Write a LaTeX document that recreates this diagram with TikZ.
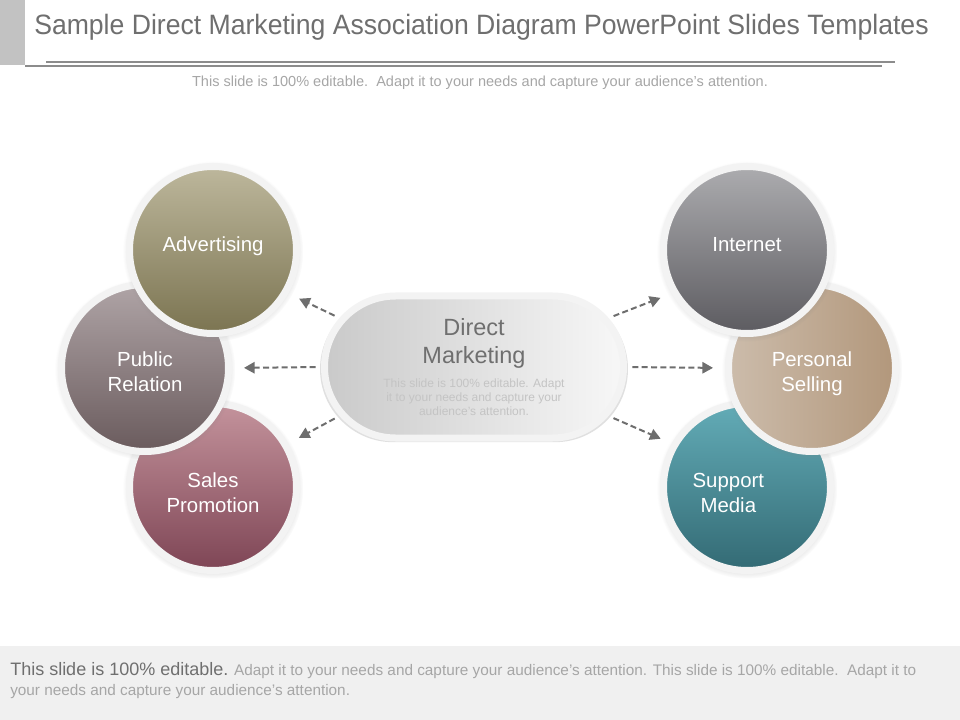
\documentclass[tikz,border=0pt]{standalone}
\usepackage{fontspec}
\setmainfont{Liberation Sans}
\usepackage{tikz}
\usetikzlibrary{shapes.misc, arrows.meta, shadows}

\definecolor{titlegray}{HTML}{6F6F6F}
\definecolor{subgray}{HTML}{A6A6A6}
\definecolor{faintgray}{HTML}{C4C4C4}
\definecolor{bargray}{HTML}{C2C2C2}
\definecolor{bandgray}{HTML}{F0F0F0}
\definecolor{ringgray}{HTML}{F3F3F3}
\definecolor{arrowgray}{HTML}{6E6E6E}
\definecolor{advTop}{HTML}{BDB79C}
\definecolor{advBot}{HTML}{7B7451}
\definecolor{prTop}{HTML}{AFA4A6}
\definecolor{prBot}{HTML}{6A5B5D}
\definecolor{spTop}{HTML}{C4939C}
\definecolor{spBot}{HTML}{7E4555}
\definecolor{intTop}{HTML}{ACACAF}
\definecolor{intBot}{HTML}{5C5B60}
\definecolor{psLeft}{HTML}{CCBCAB}
\definecolor{psRight}{HTML}{B2977B}
\definecolor{smTop}{HTML}{63ACB7}
\definecolor{smBot}{HTML}{336A74}

% move a label up or down inside its bubble
\newcommand{\shiftlabel}[2]{\raisebox{#1}[\height][\depth]{\begin{tabular}{@{}c@{}}#2\end{tabular}}}

\begin{document}
\begin{tikzpicture}[x=0.75pt, y=-0.75pt,
    bubble/.style={circle, minimum size=125.25pt, inner sep=0pt, draw=ringgray,
      line width=5.25pt, text=white,
      font=\fontsize{15.3}{18.75}\selectfont,
      circular drop shadow={shadow scale=1.08, shadow xshift=0pt, shadow yshift=-1pt, opacity=0.35}},
    pill/.style={rounded rectangle, minimum width=224.25pt, minimum height=106.5pt,
      inner sep=0pt, draw=ringgray, line width=5.25pt,
      left color=black!21, right color=black!3,
      general shadow={fill=black!30, shadow scale=1.03, shadow yshift=-1.5pt, opacity=0.4}},
    link/.style={arrowgray, line width=1.5pt, dash pattern=on 4.5pt off 2.5pt,
      -{Triangle[length=8pt, width=8.5pt]}, shorten <=4pt, shorten >=9pt}]
    \useasboundingbox (0,0) rectangle (960,720);
    \fill[white] (0,0) rectangle (960,720);

    % header
    \fill[bargray] (0,0) rectangle (25,65);
    \node[anchor=base west, text=titlegray, inner sep=0pt,
      font=\fontsize{21}{25}\selectfont] (title) at (34,35)
      {\scalebox{0.95}[1]{Sample Direct Marketing Association Diagram PowerPoint Slides Templates}};
    \draw[black!45, line width=1.5pt] (46,62) -- (895,62);
    \draw[black!45, line width=1pt] (25,66) -- (882,66);
    \node[anchor=base, text=subgray, inner sep=0pt,
      font=\fontsize{10.9}{13}\selectfont] (sub) at (480,87)
      {This slide is 100\% editable.\ \ Adapt it to your needs and capture your audience's attention.};

    % left group
    \node[bubble, top color=spTop, bottom color=spBot] (sp) at (213,487) {\shiftlabel{-6pt}{Sales\\Promotion}};
    \node[bubble, top color=prTop, bottom color=prBot] (pr) at (145,368) {\shiftlabel{-4.5pt}{Public\\Relation}};
    \node[bubble, top color=advTop, bottom color=advBot] (adv) at (213,250) {\shiftlabel{2.5pt}{Advertising}};

    % right group
    \node[bubble, top color=smTop, bottom color=smBot] (sm) at (747,487)
      {\shiftlabel{-6pt}{Support\hspace*{28pt}\\Media\hspace*{28pt}}};
    \node[bubble, left color=psLeft, right color=psRight] (ps) at (812,368) {\shiftlabel{-4.5pt}{Personal\\Selling}};
    \node[bubble, top color=intTop, bottom color=intBot] (int) at (747,250) {\shiftlabel{2.5pt}{Internet}};

    % centre
    \node[pill] (dm) at (474,367) {\parbox{170pt}{\centering
      \fontsize{17.6}{21}\selectfont\color{titlegray}Direct\\Marketing\par\vspace{7pt}
      \fontsize{9}{10.5}\selectfont\color{faintgray}This slide is 100\% editable. Adapt\\
      it to your needs and capture your\\audience's attention.}};

    \draw[link] (dm.160) -- (adv.-30);
    \draw[link] (dm.west) -- (pr.east);
    \draw[link] (dm.200) -- (sp.30);
    \draw[link] (dm.20) -- (int.210);
    \draw[link] (dm.east) -- (ps.west);
    \draw[link] (dm.-20) -- (sm.150);

    % footer
    \fill[bandgray] (0,646) rectangle (960,720);
    \node[anchor=base west, inner sep=0pt, text=subgray, align=left,
      font=\fontsize{11.5}{14.5}\selectfont] (foot) at (10,695)
      {{\fontsize{13.5}{14.5}\selectfont\color{titlegray}This slide is 100\% editable.} Adapt it to your needs and capture your audience's attention. This slide is 100\% editable.\ \ Adapt it to\\
      your needs and capture your audience's attention.};
\end{tikzpicture}
\end{document}
